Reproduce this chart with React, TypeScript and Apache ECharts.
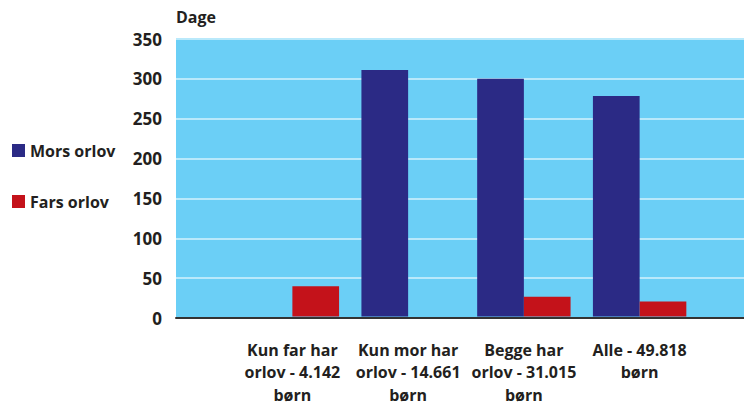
import React, { useEffect, useRef } from "react";
import * as echarts from "echarts";

const categories = [
  "Kun far har\norlov - 4.142\nbørn",
  "Kun mor har\norlov - 14.661\nbørn",
  "Begge har\norlov - 31.015\nbørn",
  "Alle - 49.818\nbørn",
];
const morsOrlov = [0, 311, 300, 278];
const farsOrlov = [38, 0, 25, 19];
const yTicks = { min: 0, max: 350, interval: 50 };

const FONT = "'Open Sans', 'Noto Sans', sans-serif";
const TXT = "#231f20";

export default function App() {
  const ref = useRef<HTMLDivElement>(null);
  useEffect(() => {
    if (!ref.current) return;
    const chart = echarts.init(ref.current, undefined, { renderer: "svg" });
    const gridTop = 39;
    const gridBottom = 406 - 318;
    chart.setOption({
      animation: false,
      textStyle: { fontFamily: FONT },
      legend: {
        orient: "vertical",
        left: 12,
        top: 142.5,
        padding: 0,
        itemWidth: 13,
        itemHeight: 13,
        itemGap: 35,
        icon: "rect",
        textStyle: { fontFamily: FONT, fontSize: 16, fontWeight: "bold", color: TXT },
        data: ["Mors orlov", "Fars orlov"],
      },
      grid: [
        { left: 176, right: 0, top: gridTop, bottom: gridBottom, show: true, backgroundColor: "#6bcff6", borderWidth: 0 },
        { left: 234.5, width: 463, top: gridTop, bottom: gridBottom },
      ],
      xAxis: [
        {
          gridIndex: 0, type: "category", data: [""],
          axisLine: { show: true, lineStyle: { color: "#333333", width: 2 } },
          axisTick: { show: false }, axisLabel: { show: false },
        },
        {
          gridIndex: 1, type: "category", data: categories,
          axisLine: { show: false }, axisTick: { show: false },
          axisLabel: {
            interval: 0, margin: 22, fontFamily: FONT, fontSize: 16, fontWeight: "bold",
            color: TXT, lineHeight: 22.5, align: "center",
          },
        },
      ],
      yAxis: [
        {
          gridIndex: 0, type: "value", ...yTicks,
          name: "Dage", nameLocation: "end", nameGap: 14,
          nameTextStyle: { fontFamily: FONT, fontSize: 16, fontWeight: "bold", color: TXT, align: "left", verticalAlign: "bottom" },
          axisLine: { show: false }, axisTick: { show: false },
          axisLabel: { margin: 14, fontFamily: FONT, fontSize: 17, fontWeight: "bold", color: TXT },
          splitLine: { show: true, lineStyle: { color: "#b9e9fb", width: 2 } },
        },
        { gridIndex: 1, type: "value", ...yTicks, show: false, splitLine: { show: false } },
      ],
      series: [
        {
          name: "Mors orlov", type: "bar", xAxisIndex: 1, yAxisIndex: 1,
          data: morsOrlov, barWidth: 46.7, barGap: "0%",
          itemStyle: { color: "#2b2a85" },
        },
        {
          name: "Fars orlov", type: "bar", xAxisIndex: 1, yAxisIndex: 1,
          data: farsOrlov, barWidth: 46.7, barGap: "0%",
          itemStyle: { color: "#c4121a" },
        },
      ],
    });
    return () => chart.dispose();
  }, []);
  return <div ref={ref} style={{ width: 744, height: 406, position: "absolute", left: 0, top: 0 }} />;
}
